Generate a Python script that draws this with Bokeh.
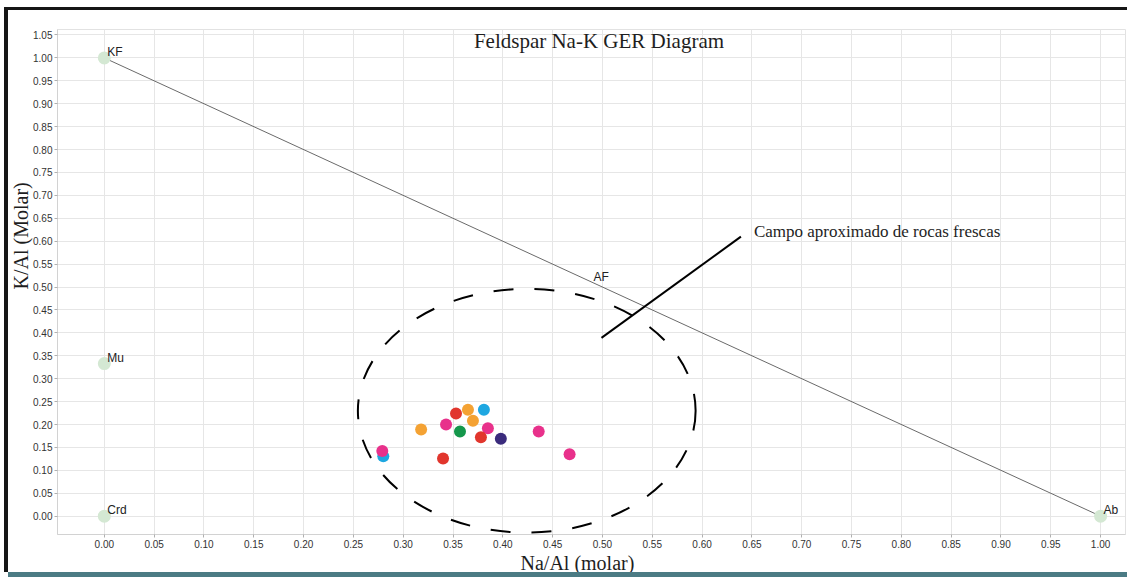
from bokeh.plotting import figure
from bokeh.models import FixedTicker, NumeralTickFormatter, Range1d, Label, Title
from bokeh.embed import file_html
from bokeh.resources import INLINE
from bokeh.core.properties import value

# ---------------- data ----------------
title_text = "Feldspar Na-K GER Diagram"
x_label = "Na/Al (molar)"
y_label = "K/Al (Molar)"
field_text = "Campo aproximado de rocas frescas"

# end-member compositions
end_names = ["KF", "Mu", "Crd", "Ab"]
end_na = [0.0, 0.0, 0.0, 1.0]
end_k = [1.0, 0.333, 0.0, 0.0]
af_name = ["AF"]
af_na = [0.5]
af_k = [0.5]

# KF - Ab tie line
tie_na = [0.0, 1.0]
tie_k = [1.0, 0.0]

# approximate fresh-rock field (ellipse)
field_na = [0.424]
field_k = [0.230]
field_w = [0.339]
field_h = [0.532]

# pointer line to field annotation
pointer_na = [0.499, 0.639]
pointer_k = [0.389, 0.610]
field_label_na = 0.652
field_label_k = 0.621
title_na = 0.4965
title_k = 1.036

# samples grouped by colour
cyan_na = [0.280, 0.381]
cyan_k = [0.131, 0.232]
pink_na = [0.279, 0.343, 0.385, 0.436, 0.467]
pink_k = [0.142, 0.200, 0.192, 0.185, 0.135]
orange_na = [0.318, 0.365, 0.370]
orange_k = [0.189, 0.232, 0.208]
red_na = [0.353, 0.378, 0.340]
red_k = [0.224, 0.172, 0.126]
green_na = [0.357]
green_k = [0.185]
navy_na = [0.398]
navy_k = [0.169]

x_ticks = [0.00, 0.05, 0.10, 0.15, 0.20, 0.25, 0.30, 0.35, 0.40, 0.45, 0.50,
           0.55, 0.60, 0.65, 0.70, 0.75, 0.80, 0.85, 0.90, 0.95, 1.00]
y_ticks = [0.00, 0.05, 0.10, 0.15, 0.20, 0.25, 0.30, 0.35, 0.40, 0.45, 0.50,
           0.55, 0.60, 0.65, 0.70, 0.75, 0.80, 0.85, 0.90, 0.95, 1.00, 1.05]

# ---------------- figure ----------------
p = figure(width=1119, height=562,
           x_range=Range1d(-0.047, 1.025), y_range=Range1d(-0.040, 1.062),
           output_backend="svg", toolbar_location=None,
           min_border_left=47, min_border_right=2,
           min_border_top=19, min_border_bottom=37)
p.styles = {"margin-left": "8px", "margin-top": "10px",
            "box-shadow": "-4px 0 0 0 #161616, 0 -3px 0 0 #161616, "
                          "-4px -3px 0 0 #161616, 0 5px 0 0 #4b7b84"}
p.background_fill_color = "white"
p.border_fill_color = "white"
p.outline_line_color = "#e2e2e2"
p.grid.grid_line_color = "#e6e6e6"
p.grid.grid_line_width = 1

for ax, ticks in ((p.xaxis, x_ticks), (p.yaxis, y_ticks)):
    ax.ticker = FixedTicker(ticks=ticks)
    ax.formatter = NumeralTickFormatter(format="0.00")
    ax.major_label_text_font = "Liberation Sans"
    ax.major_label_text_font_size = "10px"
    ax.major_label_text_color = "#333333"
    ax.major_label_standoff = 2
    ax.major_tick_out = 3
    ax.major_tick_in = 0
    ax.minor_tick_line_color = None
    ax.axis_line_color = "#d2d2d2"
    ax.major_tick_line_color = "#b0b0b0"


def axis_title(text, offset, standoff):
    t = Title(text=text, align="left", offset=offset,
              text_font="Liberation Serif", text_font_size="20px",
              text_font_style="normal", text_color="#1e1e1e")
    if "standoff" in t.properties():
        t.standoff = standoff
    return t


p.add_layout(axis_title(x_label, 463, -2), "below")
p.add_layout(axis_title(y_label, 245, -2), "left")

# tie line
p.line(tie_na, tie_k, line_color="#6a6a6a", line_width=1)

# end-members
p.scatter(end_na, end_k, size=13, fill_color="#d4e8d3", line_color=None)
p.text(end_na, end_k, text=end_names, x_offset=3, y_offset=1,
       text_baseline="bottom", text_align="left",
       text_font=value("Liberation Sans"), text_font_size="12px", text_color="#222222")
p.text(af_na, af_k, text=af_name, x_offset=-9, y_offset=-3,
       text_baseline="bottom", text_align="left",
       text_font=value("Liberation Sans"), text_font_size="12px", text_color="#222222")

# fresh-rock field
p.ellipse(x=field_na, y=field_k, width=field_w, height=field_h,
          fill_color=None, line_color="black", line_width=2, line_dash="20 21")
p.line(pointer_na, pointer_k, line_color="black", line_width=2)

# samples
p.scatter(cyan_na, cyan_k, size=12, fill_color="#1ea7e1", line_color=None)
p.scatter(pink_na, pink_k, size=12, fill_color="#e8318b", line_color=None)
p.scatter(orange_na, orange_k, size=12, fill_color="#f4a233", line_color=None)
p.scatter(red_na, red_k, size=12, fill_color="#e1362d", line_color=None)
p.scatter(green_na, green_k, size=12, fill_color="#14974b", line_color=None)
p.scatter(navy_na, navy_k, size=12, fill_color="#3a2b7c", line_color=None)

# texts
p.add_layout(Label(x=title_na, y=title_k, text=title_text,
                   text_font="Liberation Serif", text_font_size="21px",
                   text_align="center", text_baseline="middle", text_color="#1e1e1e"))
p.add_layout(Label(x=field_label_na, y=field_label_k, text=field_text,
                   text_font="Liberation Serif", text_font_size="17px",
                   text_align="left", text_baseline="middle", text_color="#1e1e1e"))

open("out.html", "w").write(file_html(p, INLINE))
